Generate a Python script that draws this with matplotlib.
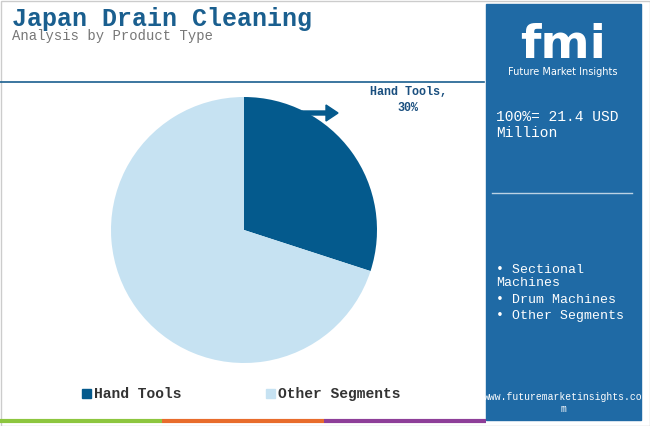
import matplotlib; matplotlib.use('Agg')
import matplotlib.pyplot as plt
from matplotlib.patches import Rectangle, FancyArrow

labels = ['Hand Tools', 'Other Segments']
values = [30, 70]
colors = ['#045a8d', '#c6e2f2']
panel_items = ['Sectional\nMachines', 'Drum Machines', 'Other Segments']

W, H = 650, 426
fig = plt.figure(figsize=(6.5, 4.26), dpi=100)
bg = fig.add_axes([0, 0, 1, 1]); bg.set_xlim(0, W); bg.set_ylim(H, 0); bg.axis('off')
mono = 'Liberation Mono'

bg.add_patch(Rectangle((0.5, 0.5), W - 1, H - 1, fill=False, ec='#cccccc', lw=1))
bg.text(12, 26, 'Japan Drain Cleaning', fontsize=18, fontweight='bold', color='#1a5f8f', family=mono)
bg.text(12, 40, 'Analysis by Product Type', fontsize=10, color='#777777', family=mono)
bg.plot([0, 484], [82, 82], color='#1a5f8f', lw=1.2)

# right panel
bg.add_patch(Rectangle((486, 4), 155, 416, color='#1f6aa5'))
bg.text(563, 45, 'fmi', fontsize=34, fontweight='bold', color='white', ha='center', va='center')
bg.text(563, 72, 'Future Market Insights', fontsize=7, color='white', ha='center', va='center')
bg.text(496, 125, '100%= 21.4 USD\nMillion', fontsize=10.5, color='white', family=mono, va='center', linespacing=1.2)
bg.plot([492, 632], [193, 193], color='white', lw=1, alpha=0.7)
bg.text(496, 264, '• ' + panel_items[0], fontsize=9.5, color='white', family=mono, va='top', linespacing=1.1)
bg.text(496, 300, '• ' + panel_items[1], fontsize=9.5, color='white', family=mono, va='center')
bg.text(496, 316, '• ' + panel_items[2], fontsize=9.5, color='white', family=mono, va='center')
bg.text(563, 403, 'www.futuremarketinsights.co\nm', fontsize=7, color='white', family=mono, ha='center', va='center')

# bottom stripes
for x0, x1, c in [(0, 162, '#8dc63f'), (162, 324, '#e86c2c'), (324, 486, '#8e3f99')]:
    bg.plot([x0, x1], [421, 421], color=c, lw=3, solid_capstyle='butt')

# pie
ax = fig.add_axes([(244 - 133) / W, 1 - (230 + 133) / H, 266 / W, 266 / H])
ax.pie(values, colors=colors, startangle=90, counterclock=False)
ax.set_xlim(-1, 1); ax.set_ylim(-1, 1)
ax.set_aspect('equal')

bg.add_patch(FancyArrow(302, 113, 24, 0, width=4, head_width=16, head_length=12, color='#045a8d'))
bg.text(408, 100, 'Hand Tools,\n30%', fontsize=8.5, fontweight='bold', color='#1a4f7f', family=mono,
        ha='center', va='center', linespacing=1.4)

# legend
for x, lab, c in [(82, labels[0], colors[0]), (266, labels[1], colors[1])]:
    bg.add_patch(Rectangle((x, 389), 9, 9, color=c))
    bg.text(x + 12, 394, lab, fontsize=10.5, fontweight='bold', color='#333333', family=mono, va='center')

fig.savefig('out.png', dpi=100)
